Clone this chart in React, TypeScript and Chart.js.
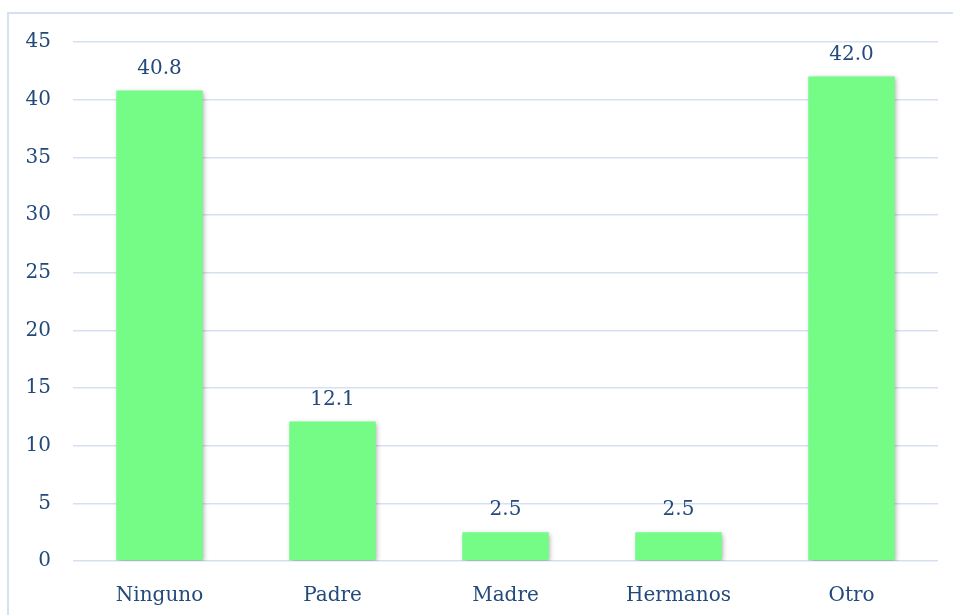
import React, { useEffect, useRef } from "react";
import { Chart, registerables } from "chart.js";

Chart.register(...registerables);

const categories = ["Ninguno", "Padre", "Madre", "Hermanos", "Otro"];
const values = [40.8, 12.1, 2.5, 2.5, 42.0];
const yTicks = [0, 5, 10, 15, 20, 25, 30, 35, 40, 45];

const TEXT = "#234A7B";
const GRID = "#D5E0F2";
const BAR = "#74FC86";
const FONT = "'DejaVu Serif', serif";

const framePlugin = {
  id: "frame",
  beforeDraw(chart: any) {
    const ctx = chart.ctx;
    ctx.save();
    ctx.fillStyle = "#ffffff";
    ctx.fillRect(0, 0, chart.width, chart.height);
    ctx.strokeStyle = GRID;
    ctx.lineWidth = 2;
    ctx.beginPath();
    ctx.moveTo(8, chart.height);
    ctx.lineTo(8, 13);
    ctx.lineTo(chart.width, 13);
    ctx.stroke();
    ctx.restore();
  },
};

const shadowPlugin = {
  id: "barShadow",
  beforeDatasetDraw(chart: any) {
    const ctx = chart.ctx;
    ctx.save();
    ctx.shadowColor = "rgba(0,0,0,0.35)";
    ctx.shadowBlur = 5;
    ctx.shadowOffsetX = 1.5;
    ctx.shadowOffsetY = 1.5;
  },
  afterDatasetDraw(chart: any) {
    chart.ctx.restore();
  },
};

const labelPlugin = {
  id: "valueLabels",
  afterDatasetsDraw(chart: any) {
    const ctx = chart.ctx;
    const meta = chart.getDatasetMeta(0);
    ctx.save();
    ctx.fillStyle = TEXT;
    ctx.font = `20px ${FONT}`;
    ctx.textAlign = "center";
    ctx.textBaseline = "bottom";
    meta.data.forEach((el: any, i: number) => {
      ctx.fillText(values[i].toFixed(1), el.x, el.y - 12);
    });
    ctx.restore();
  },
};

export default function App() {
  const ref = useRef<HTMLCanvasElement | null>(null);
  useEffect(() => {
    if (!ref.current) return;
    const chart = new Chart(ref.current, {
      type: "bar",
      data: {
        labels: categories,
        datasets: [
          {
            data: values,
            backgroundColor: BAR,
            borderWidth: 0,
            barPercentage: 0.5,
            categoryPercentage: 1,
          },
        ],
      },
      options: {
        responsive: false,
        animation: false,
        layout: { padding: { left: 0, top: 42, right: 15, bottom: 0 } },
        plugins: { legend: { display: false }, tooltip: { enabled: false } },
        scales: {
          x: {
            grid: { display: false },
            border: { display: false },
            ticks: { color: TEXT, font: { family: FONT, size: 20 }, padding: 15 },
            afterFit(scale: any) {
              scale.height = 54;
            },
          },
          y: {
            min: 0,
            max: 45,
            afterBuildTicks(scale: any) {
              scale.ticks = yTicks.map((v) => ({ value: v }));
            },
            grid: { color: GRID, lineWidth: 1.5, drawTicks: false },
            border: { display: false },
            ticks: { color: TEXT, font: { family: FONT, size: 20 }, padding: 22 },
            afterFit(scale: any) {
              scale.width = 73;
            },
          },
        },
      },
      plugins: [framePlugin, shadowPlugin, labelPlugin],
    });
    return () => chart.destroy();
  }, []);
  return (
    <div style={{ position: "fixed", left: 0, top: 0, width: 953, height: 615, background: "#fff", overflow: "hidden" }}>
      <canvas ref={ref} width={953} height={615} style={{ position: "absolute", left: 0, top: 0 }} />
    </div>
  );
}
